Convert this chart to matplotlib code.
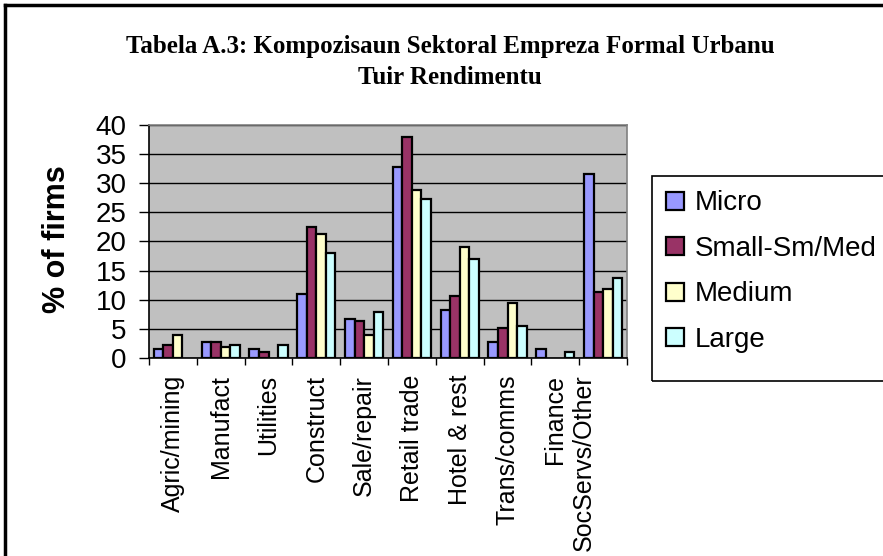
import numpy as np
import matplotlib
matplotlib.use("Agg")
import matplotlib.pyplot as plt
from matplotlib.lines import Line2D
from matplotlib.patches import Rectangle
import matplotlib.transforms as mtransforms

categories = ["Agric/mining", "Manufact", "Utilities", "Construct", "Sale/repair",
              "Retail trade", "Hotel & rest", "Trans/comms", "Finance", "SocServs/Other"]
series_names = ["Micro", "Small-Sm/Med", "Medium", "Large"]
micro = [1.6, 2.7, 1.6, 11.0, 6.7, 32.8, 8.3, 2.7, 1.6, 31.6]
small = [2.3, 2.7, 1.1, 22.5, 6.3, 38.0, 10.7, 5.1, None, 11.4]
medium = [3.9, 1.9, None, 21.3, 3.9, 28.8, 19.0, 9.5, None, 11.8]
large = [None, 2.3, 2.3, 18.1, 7.9, 27.3, 17.0, 5.5, 1.1, 13.8]
yticks = [0, 5, 10, 15, 20, 25, 30, 35, 40]
colors = ["#9999FF", "#993366", "#FFFFCC", "#CCFFFF"]

W, H = 883, 556
fig = plt.figure(figsize=(W / 100, H / 100), dpi=100)
ax = fig.add_axes([149 / W, 1 - 358 / H, (627 - 149) / W, (358 - 125) / H])
ax.set_facecolor("#C0C0C0")

x = np.arange(len(categories))
bw = 0.2
for i, (vals, c, name) in enumerate(zip([micro, small, medium, large], colors, series_names)):
    v = np.array([np.nan if a is None else a for a in vals], dtype=float)
    ax.bar(x - 0.3 + i * bw, v, width=bw, color=c, edgecolor="black",
           linewidth=1.6, label=name, zorder=3)

ax.set_xlim(-0.5, len(categories) - 0.5)
ax.set_ylim(0, 40)
ax.set_yticks(yticks)
ax.set_yticklabels([str(t) for t in yticks], fontsize=20, family="Liberation Sans")
ax.tick_params(axis="y", length=7, width=1, pad=9, direction="out")
ax.yaxis.grid(True, color="black", linewidth=1, zorder=1)
ax.set_axisbelow(True)

# category boundaries as ticks, labels at centers
ax.set_xticks(np.arange(-0.5, len(categories), 1.0))
ax.set_xticklabels([])
ax.tick_params(axis="x", which="major", length=5, width=1, direction="out")
ax.set_xticks(x, minor=True)
ax.set_xticklabels(categories, minor=True, rotation=90, fontsize=18,
                   family="Liberation Sans", va="top", ha="center")
ax.tick_params(axis="x", which="minor", length=0, pad=12)
lbls = ax.get_xticklabels(minor=True)
off = mtransforms.ScaledTranslation(-19 / 100, 0, fig.dpi_scale_trans)
lbls[-1].set_transform(lbls[-1].get_transform() + off)

for s in ["left", "bottom"]:
    ax.spines[s].set_color("black")
    ax.spines[s].set_linewidth(1.2)
for s in ["top", "right"]:
    ax.spines[s].set_color("#808080")
    ax.spines[s].set_linewidth(1.2)

fig.text(57 / W, 1 - 239 / H, "% of firms", rotation=90, fontsize=22, fontweight="bold",
         family="Liberation Sans", ha="center", va="center")

fig.text(450 / W, 1 - 53 / H, "Tabela A.3: Kompozisaun Sektoral Empreza Formal Urbanu",
         fontsize=18, fontweight="bold", family="Liberation Serif", ha="center", va="baseline")
fig.text(450 / W, 1 - 84 / H, "Tuir Rendimentu",
         fontsize=18, fontweight="bold", family="Liberation Serif", ha="center", va="baseline")

# legend frame
fig.add_artist(Rectangle((652 / W, 1 - 381 / H), 0.4, (381 - 176) / H, fill=False,
                         edgecolor="black", linewidth=1.2, transform=fig.transFigure))
leg = fig.legend(loc="upper left", bbox_to_anchor=(652 / W, 1 - 176 / H),
                 prop={"family": "Liberation Sans", "size": 20},
                 frameon=False, handlelength=0.62, handleheight=0.62, handletextpad=0.4,
                 labelspacing=0.7, borderpad=0.52, borderaxespad=0)

# outer chart border (left and top visible)
fig.add_artist(Line2D([5 / W, 5 / W], [0, 1 - 5 / H], color="black", linewidth=2.5,
                      transform=fig.transFigure))
fig.add_artist(Line2D([5 / W, 1], [1 - 5 / H, 1 - 5 / H], color="black", linewidth=2.5,
                      transform=fig.transFigure))

fig.savefig("out.png", dpi=100)
